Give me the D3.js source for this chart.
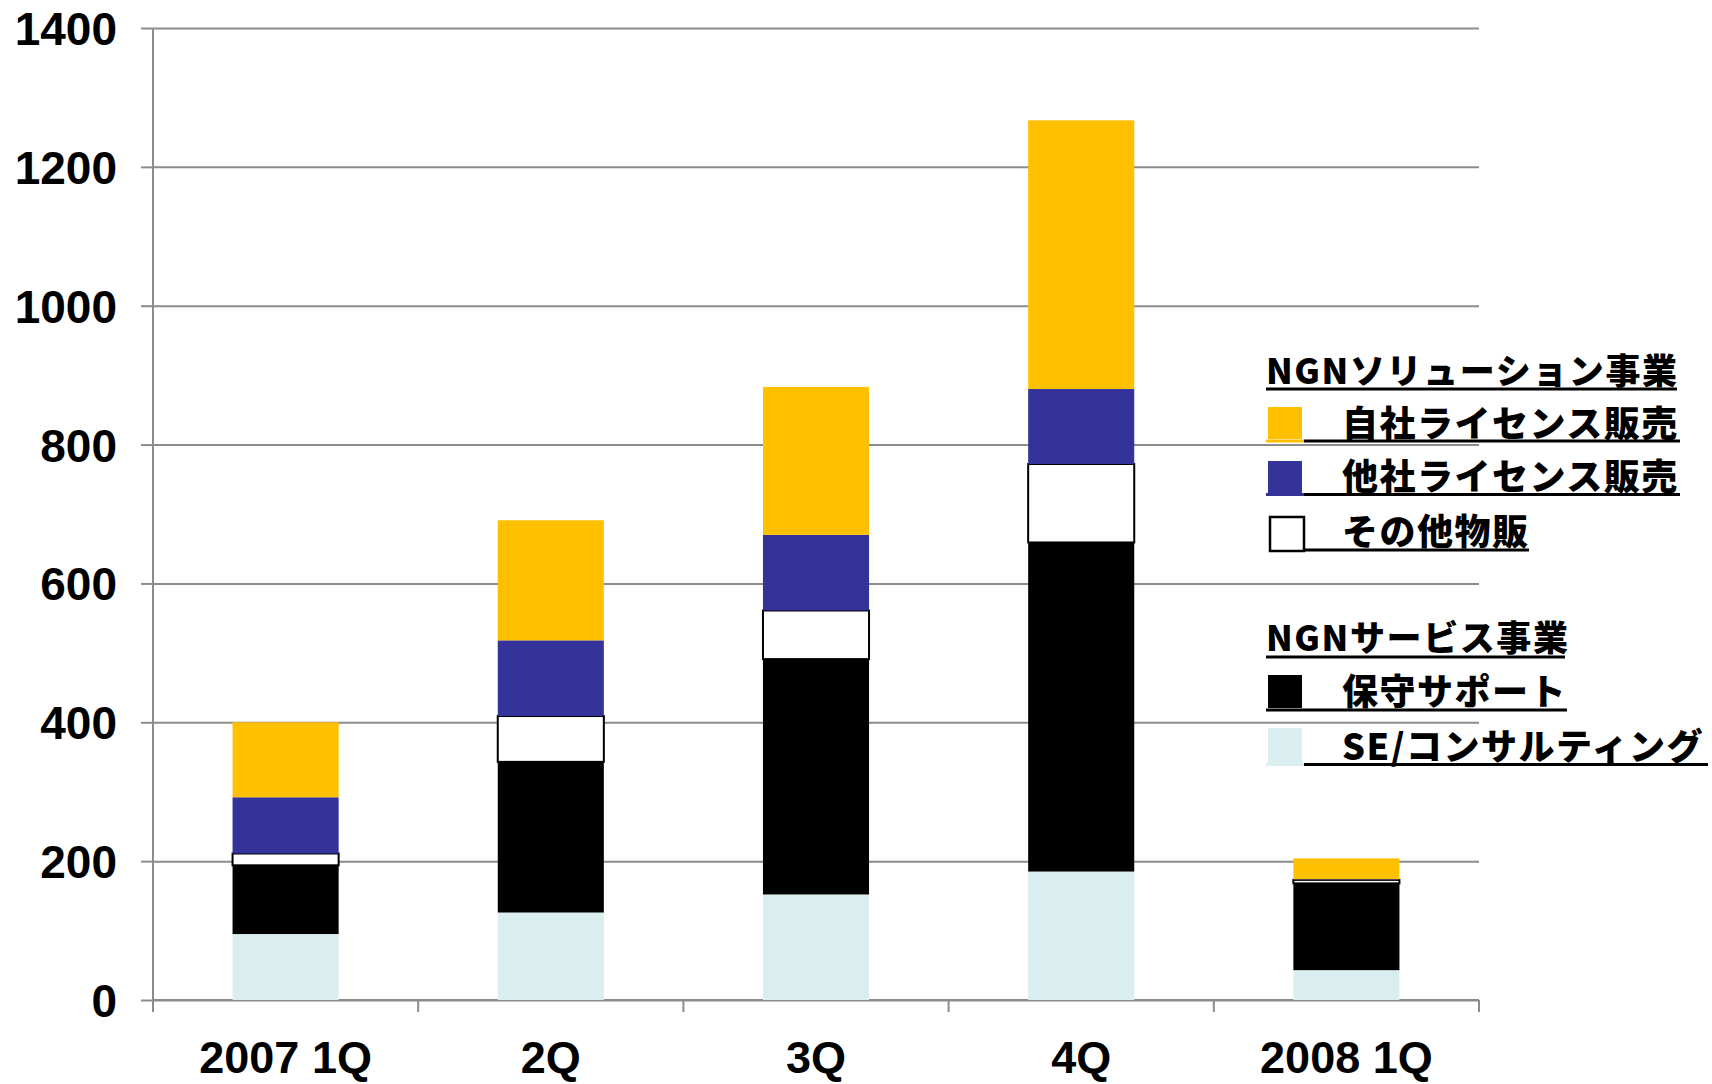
<!DOCTYPE html>
<html>
<head>
<meta charset="utf-8">
<script src="https://cdn.jsdelivr.net/npm/d3@7"></script>
<style>
  html, body { margin: 0; padding: 0; background: #ffffff; }
  svg { display: block; }
</style>
</head>
<body>
<svg id="chart" width="1712" height="1084"></svg>
<script>
// ---- data ----
const categories = ["2007 1Q", "2Q", "3Q", "4Q", "2008 1Q"];
const seConsulting = [95, 126, 152, 185, 43];      // SE/コンサルティング
const maintenance = [99, 217, 339, 474, 125];      // 保守サポート
const otherGoods = [17, 66, 70, 113, 5];           // その他物販
const otherLicense = [81, 109, 109, 108, 1];       // 他社ライセンス販売
const ownLicense = [108, 173, 213, 387, 30];       // 自社ライセンス販売
const yTicks = [0, 200, 400, 600, 800, 1000, 1200, 1400];

const seriesKeys = ["se", "maint", "other", "otherLic", "ownLic"];
const seriesColors = {
  se: "#DAEEF0", maint: "#000000", other: "#FFFFFF", otherLic: "#333399", ownLic: "#FFC000"
};

const table = categories.map((c, i) => ({
  cat: c, se: seConsulting[i], maint: maintenance[i], other: otherGoods[i],
  otherLic: otherLicense[i], ownLic: ownLicense[i]
}));

// ---- layout ----
const svg = d3.select("#chart");
const plotLeft = 153, plotRight = 1479, plotTop = 28, plotBottom = 1000;

const x = d3.scaleBand().domain(categories).range([plotLeft, plotRight])
  .paddingInner(0.6).paddingOuter(0.3);
const y = d3.scaleLinear().domain([0, 1400]).range([plotBottom, plotTop]);

const gridColor = "#8c8c8c";

// gridlines
svg.append("g")
  .attr("transform", `translate(${plotLeft},0)`)
  .call(d3.axisLeft(y).tickValues(yTicks).tickSize(-(plotRight - plotLeft)).tickFormat(""))
  .call(g => g.select(".domain").remove())
  .call(g => g.selectAll("line").attr("stroke", gridColor).attr("stroke-width", 2));

// y axis with outward ticks + labels
svg.append("g")
  .attr("transform", `translate(${plotLeft},0)`)
  .call(d3.axisLeft(y).tickValues(yTicks).tickSize(12).tickPadding(24).tickFormat(d3.format("d")))
  .call(g => g.select(".domain").remove())
  .call(g => g.selectAll("line").attr("stroke", gridColor).attr("stroke-width", 2))
  .call(g => g.selectAll("text")
    .attr("font-family", "'Liberation Sans', Arial, sans-serif")
    .attr("font-weight", "bold")
    .attr("font-size", 46)
    .attr("fill", "#000")
    .attr("dy", "0.36em"));

// y axis line (extends slightly below zero)
svg.append("line")
  .attr("x1", plotLeft).attr("x2", plotLeft)
  .attr("y1", y(1400)).attr("y2", y(0) + 12)
  .attr("stroke", gridColor).attr("stroke-width", 2);

// x axis line
svg.append("line")
  .attr("x1", plotLeft).attr("x2", plotRight)
  .attr("y1", y(0)).attr("y2", y(0))
  .attr("stroke", gridColor).attr("stroke-width", 2);

// x category boundary ticks
const step = x.step();
const boundaries = d3.range(categories.length + 1).map(i => plotLeft + i * step);
svg.append("g").selectAll("line").data(boundaries).join("line")
  .attr("x1", d => d).attr("x2", d => d)
  .attr("y1", y(0)).attr("y2", y(0) + 12)
  .attr("stroke", gridColor).attr("stroke-width", 2);

// x labels
svg.append("g").selectAll("text").data(categories).join("text")
  .attr("x", d => x(d) + x.bandwidth() / 2)
  .attr("y", 1073)
  .attr("text-anchor", "middle")
  .attr("font-family", "'Liberation Sans', Arial, sans-serif")
  .attr("font-weight", "bold")
  .attr("font-size", 45)
  .attr("fill", "#000")
  .text(d => d);

// bars
const stacked = d3.stack().keys(seriesKeys)(table);
const barG = svg.append("g");
stacked.forEach(layer => {
  const key = layer.key;
  barG.append("g").selectAll("rect").data(layer).join("rect")
    .attr("x", d => x(d.data.cat))
    .attr("width", x.bandwidth())
    .attr("y", d => y(d[1]))
    .attr("height", d => Math.max(0, y(d[0]) - y(d[1])))
    .attr("fill", seriesColors[key])
    .attr("stroke", key === "other" ? "#000" : "none")
    .attr("stroke-width", key === "other" ? 2 : 0);
});

// ---- legend ----
const legendFont = "'Noto Sans CJK JP', 'Noto Sans CJK SC', sans-serif";
const legendItems = [
  { type: "header", text: "NGNソリューション事業", base: 384, line: 389, x2: 1677 },
  { type: "item", key: "ownLic", text: "自社ライセンス販売", base: 437, sq: [407, 439], line: 441, x2: 1680 },
  { type: "item", key: "otherLic", text: "他社ライセンス販売", base: 490, sq: [461, 493], line: 494.5, x2: 1680 },
  { type: "item", key: "other", text: "その他物販", base: 545, sq: [517, 551], line: 550, x2: 1529 },
  { type: "header", text: "NGNサービス事業", base: 651, line: 657, x2: 1565 },
  { type: "item", key: "maint", text: "保守サポート", base: 705, sq: [675, 708], line: 710, x2: 1567 },
  { type: "item", key: "se", text: "SE/コンサルティング", base: 760, sq: [728, 763], line: 764.5, x2: 1708 }
];

const lg = svg.append("g");
legendItems.forEach(it => {
  if (it.type === "header") {
    lg.append("text")
      .attr("x", 1266).attr("y", it.base)
      .attr("font-family", legendFont).attr("font-weight", 900)
      .attr("font-size", 35).attr("letter-spacing", 1.6).attr("fill", "#000")
      .text(it.text);
    lg.append("line")
      .attr("x1", 1266).attr("x2", it.x2)
      .attr("y1", it.line).attr("y2", it.line)
      .attr("stroke", "#000").attr("stroke-width", 3);
  } else {
    const isWhite = it.key === "other";
    lg.append("rect")
      .attr("x", isWhite ? 1270 : 1268)
      .attr("y", it.sq[0])
      .attr("width", 34)
      .attr("height", it.sq[1] - it.sq[0])
      .attr("fill", seriesColors[it.key])
      .attr("stroke", isWhite ? "#000" : "none")
      .attr("stroke-width", isWhite ? 2.5 : 0);
    if (!isWhite) {
      lg.append("line")
        .attr("x1", 1266).attr("x2", 1304)
        .attr("y1", it.line).attr("y2", it.line)
        .attr("stroke", seriesColors[it.key]).attr("stroke-width", 3);
    }
    lg.append("line")
      .attr("x1", 1304).attr("x2", it.x2)
      .attr("y1", it.line).attr("y2", it.line)
      .attr("stroke", "#000").attr("stroke-width", 3);
    lg.append("text")
      .attr("x", 1342).attr("y", it.base)
      .attr("font-family", legendFont).attr("font-weight", 900)
      .attr("font-size", 36).attr("letter-spacing", 1.5).attr("fill", "#000")
      .text(it.text);
  }
});
</script>
</body>
</html>
